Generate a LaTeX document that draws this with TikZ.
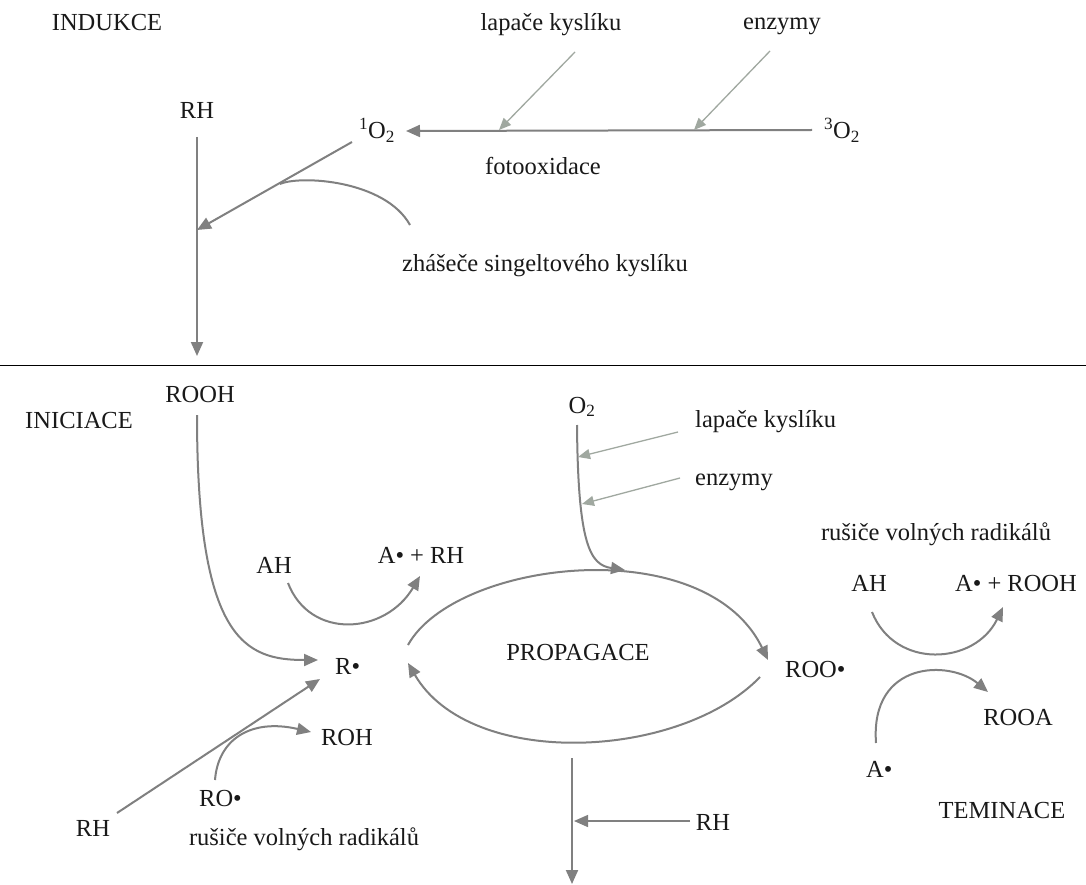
\documentclass[tikz,border=0pt]{standalone}
\usepackage{fontspec}
\setmainfont{Liberation Serif}
\usetikzlibrary{arrows.meta}
\definecolor{arr}{RGB}{128,128,128}
\definecolor{thinc}{RGB}{160,168,160}
\definecolor{txt}{RGB}{25,25,25}
\begin{document}
\begin{tikzpicture}[x=1pt,y=-1pt,
 lbl/.style={inner sep=0pt, anchor=base, font=\fontsize{24.5}{28}\selectfont, text=txt},
 lblw/.style={lbl, anchor=base west},
 conn/.style={draw=arr, line width=2pt, -{Triangle[length=14pt,width=12pt]}},
 plainc/.style={draw=arr, line width=2pt},
 thinarr/.style={draw=thinc, line width=1.3pt, -{Triangle[length=12pt,width=10pt]}},
]
\useasboundingbox[fill=white] (0,0) rectangle (1086,885);

% ---------- INDUKCE ----------
\node[lbl] (indukce) at (107,31) {INDUKCE};
\node[lbl] (lap1) at (551,31) {lapače kyslíku};
\node[lbl] (enz1) at (782,30) {enzymy};
\node[lbl] (rh1) at (197,119) {RH};
\node[lbl] (o1) at (377,139) {\textsuperscript{1}O\textsubscript{2}};
\node[lbl] (o3) at (842,139) {\textsuperscript{3}O\textsubscript{2}};
\node[lbl] (foto) at (543,175) {fotooxidace};
\node[lbl] (zhas) at (545,272) {zhášeče singeltového kyslíku};

\coordinate (o3s) at (812,130);
\coordinate (o1e) at (406,131);
\coordinate (lap1s) at (575,52);
\coordinate (lap1e) at (499,130);
\coordinate (enz1s) at (770,51);
\coordinate (enz1e) at (694,130);
\coordinate (rh1s) at (197,137);
\coordinate (rh1e) at (197,356);
\coordinate (o1s) at (352,142);
\coordinate (o1t) at (197,230);
\coordinate (qs) at (280,184);
\coordinate (qe) at (410,225);

\draw[conn] (o3s) -- (o1e);
\draw[thinarr] (lap1s) -- (lap1e);
\draw[thinarr] (enz1s) -- (enz1e);
\draw[conn] (rh1s) -- (rh1e);
\draw[conn] (o1s) -- (o1t);
\draw[plainc] (qs) .. controls (300,175) and (385,180) .. (qe);

% separator
\coordinate (sepL) at (0,365);
\coordinate (sepR) at (1086,365);
\draw[black, line width=1pt] (sepL) -- (sepR);

% ---------- INICIACE / PROPAGACE / TERMINACE ----------
\node[lbl] (rooh) at (200,402) {ROOH};
\node[lbl] (iniciace) at (79,428) {INICIACE};
\node[lbl] (o2) at (582,413) {O\textsubscript{2}};
\node[lblw] (lap2) at (695,427) {lapače kyslíku};
\node[lblw] (enz2) at (695,485) {enzymy};
\node[lbl] (ah1) at (274,573) {AH};
\node[lbl] (arh) at (421,563) {A• + RH};
\node[lblw] (r) at (335,674) {R•};
\node[lbl] (prop) at (578,660) {PROPAGACE};
\node[lblw] (roo) at (785,677) {ROO•};
\node[lbl] (rus2) at (936,540) {rušiče volných radikálů};
\node[lbl] (ah2) at (869,591) {AH};
\node[lbl] (arooh) at (1016,591) {A• + ROOH};
\node[lbl] (rooa) at (1018,725) {ROOA};
\node[lblw] (a) at (866,777) {A•};
\node[lbl] (term) at (1002,818) {TEMINACE};
\node[lbl] (rh3) at (713,830) {RH};
\node[lbl] (rh2) at (93,836) {RH};
\node[lblw] (ro) at (199,806) {RO•};
\node[lbl] (roh) at (347,745) {ROH};
\node[lbl] (rus1) at (304,845) {rušiče volných radikálů};

\coordinate (roohs) at (197,415);
\coordinate (rin1) at (318,660);
\coordinate (ah1s) at (288,583);
\coordinate (ah1e) at (420,576);
\coordinate (upS) at (408,645);
\coordinate (upE) at (768,660);
\coordinate (loS) at (760,677);
\coordinate (loE) at (408,663);
\coordinate (o2s) at (577,425);
\coordinate (o2e) at (625,570);
\coordinate (lap2s) at (678,432);
\coordinate (lap2e) at (578,457);
\coordinate (enz2s) at (680,478);
\coordinate (enz2e) at (582,504);
\coordinate (ah2s) at (872,612);
\coordinate (ah2e) at (1003,607);
\coordinate (as) at (876,743);
\coordinate (ae) at (988,692);
\coordinate (bots) at (572,758);
\coordinate (bote) at (572,884);
\coordinate (rh3s) at (690,821);
\coordinate (rh3e) at (574,821);
\coordinate (rh2s) at (117,813);
\coordinate (rh2e) at (320,679);
\coordinate (ros) at (215,780);
\coordinate (roe) at (311,732);

\draw[conn] (roohs) .. controls (197,640) and (245,660) .. (rin1);
\draw[conn] (ah1s) .. controls (310,640) and (385,635) .. (ah1e);
\draw[conn] (upS) .. controls (455,560) and (705,530) .. (upE);
\draw[conn] (loS) .. controls (680,760) and (470,770) .. (loE);
\draw[conn] (o2s) .. controls (578,545) and (590,565) .. (o2e);
\draw[thinarr] (lap2s) -- (lap2e);
\draw[thinarr] (enz2s) -- (enz2e);
\draw[conn] (ah2s) .. controls (895,670) and (975,665) .. (ah2e);
\draw[conn] (as) .. controls (870,660) and (950,660) .. (ae);
\draw[conn] (bots) -- (bote);
\draw[conn, line width=1.5pt] (rh3s) -- (rh3e);
\draw[conn] (rh2s) -- (rh2e);
\draw[conn] (ros) .. controls (218,740) and (250,718) .. (roe);
\end{tikzpicture}
\end{document}
